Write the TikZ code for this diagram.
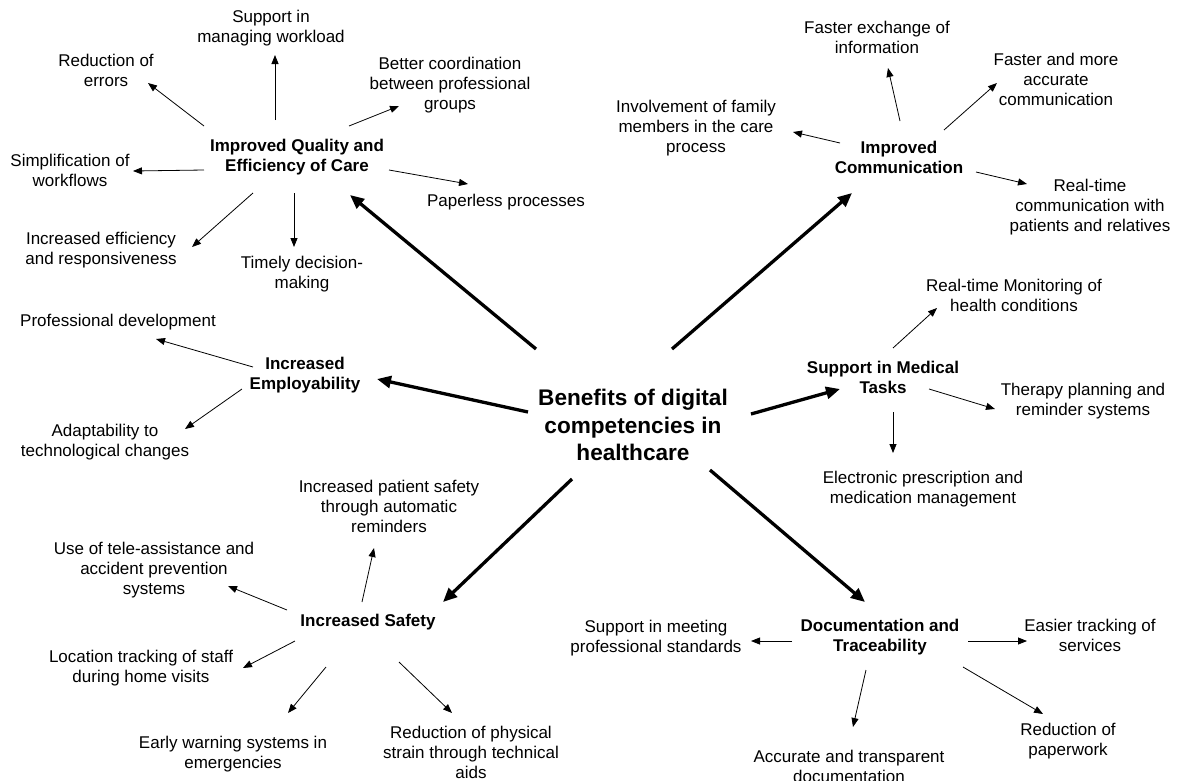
\documentclass[tikz,border=0pt]{standalone}
\usepackage{fontspec}
\setmainfont{Liberation Sans}
\usetikzlibrary{arrows.meta}

\begin{document}
\begin{tikzpicture}[x=1pt, y=-1pt,
    hub/.style={align=center, inner sep=0pt, font=\fontsize{22.6}{27.5}\selectfont\bfseries},
    branch/.style={align=center, inner sep=0pt, font=\fontsize{17}{20}\selectfont\bfseries},
    leaf/.style={align=center, inner sep=0pt, font=\fontsize{17}{20}\selectfont},
    trunk/.style={line width=3.3pt, -{Triangle[length=14pt, width=12pt]}},
    twig/.style={line width=0.8pt, -{Triangle[length=9pt, width=7pt]}}]
  \useasboundingbox[fill=white] (0,0) rectangle (1179,780);

  \node[hub] (main) at (633,425) {Benefits of digital\\competencies in\\healthcare};

  \node[branch] (qual) at (297,157) {Improved Quality and\\Efficiency of Care};
  \node[branch] (comm) at (899,157) {Improved\\Communication};
  \node[branch] (empl) at (305,375) {Increased\\Employability};
  \node[branch] (med) at (883,377) {Support in Medical\\Tasks};
  \node[branch] (safe) at (368,622) {Increased Safety};
  \node[branch] (doc) at (880,637) {Documentation and\\Traceability};

  \draw[trunk] ([shift={(-97,-76)}]main.center) -- ([shift={(53,38)}]qual.center);
  \draw[trunk] ([shift={(39,-76)}]main.center) -- ([shift={(-47,36)}]comm.center);
  \draw[trunk] ([shift={(-105,-13)}]main.center) -- ([shift={(72,4)}]empl.center);
  \draw[trunk] ([shift={(118,-11)}]main.center) -- ([shift={(-43,12)}]med.center);
  \draw[trunk] ([shift={(-61,54)}]main.center) -- ([shift={(75,-20)}]safe.center);
  \draw[trunk] ([shift={(77,45)}]main.center) -- ([shift={(-15,-35)}]doc.center);

  \node[leaf] (work) at (271,28) {Support in\\managing workload};
  \node[leaf] (err) at (106,70) {Reduction of\\errors};
  \node[leaf] (coord) at (450,85) {Better coordination\\between professional\\groups};
  \node[leaf] (simp) at (70,170) {Simplification of\\workflows};
  \node[leaf] (paper) at (506,202) {Paperless processes};
  \node[leaf] (effic) at (101,250) {Increased efficiency\\and responsiveness};
  \node[leaf] (timely) at (302,274) {Timely decision-\\making};
  \draw[twig] ([shift={(-22,-37)}]qual.center) -- ([shift={(4,27)}]work.center);
  \draw[twig] ([shift={(-93,-31)}]qual.center) -- ([shift={(42,13)}]err.center);
  \draw[twig] ([shift={(52,-31)}]qual.center) -- ([shift={(-51,21)}]coord.center);
  \draw[twig] ([shift={(-93,13)}]qual.center) -- ([shift={(63,1)}]simp.center);
  \draw[twig] ([shift={(92,13)}]qual.center) -- ([shift={(-38,-18)}]paper.center);
  \draw[twig] ([shift={(-44,36)}]qual.center) -- ([shift={(91,-3)}]effic.center);
  \draw[twig] ([shift={(-3,36)}]qual.center) -- ([shift={(-8,-27)}]timely.center);

  \node[leaf] (info) at (877,37) {Faster exchange of\\information};
  \node[leaf] (accu) at (1056,79) {Faster and more\\accurate\\communication};
  \node[leaf] (family) at (696,128) {Involvement of family\\members in the care\\process};
  \node[leaf] (realtime) at (1090,207) {Real-time\\communication with\\patients and relatives};
  \draw[twig] ([shift={(1,-36)}]comm.center) -- ([shift={(11,31)}]info.center);
  \draw[twig] ([shift={(45,-27)}]comm.center) -- ([shift={(-59,4)}]accu.center);
  \draw[twig] ([shift={(-59,-14)}]comm.center) -- ([shift={(97,4)}]family.center);
  \draw[twig] ([shift={(77,15)}]comm.center) -- ([shift={(-63,-23)}]realtime.center);

  \node[leaf] (prof) at (118,322) {Professional development};
  \node[leaf] (adapt) at (105,442) {Adaptability to\\technological changes};
  \draw[twig] ([shift={(-52,-8)}]empl.center) -- ([shift={(38,17)}]prof.center);
  \draw[twig] ([shift={(-63,14)}]empl.center) -- ([shift={(80,-13)}]adapt.center);

  \node[leaf] (monitor) at (1014,295) {Real-time Monitoring of\\health conditions};
  \node[leaf] (therapy) at (1083,401) {Therapy planning and\\reminder systems};
  \node[leaf] (presc) at (923,489) {Electronic prescription and\\medication management};
  \draw[twig] ([shift={(10,-29)}]med.center) -- ([shift={(-77,13)}]monitor.center);
  \draw[twig] ([shift={(46,12)}]med.center) -- ([shift={(-88,8)}]therapy.center);
  \draw[twig] ([shift={(10,35)}]med.center) -- ([shift={(-30,-36)}]presc.center);

  \node[leaf] (remind) at (389,506) {Increased patient safety\\through automatic\\reminders};
  \node[leaf] (tele) at (154,570) {Use of tele-assistance and\\accident prevention\\systems};
  \node[leaf] (locate) at (141,668) {Location tracking of staff\\during home visits};
  \node[leaf] (early) at (233,754) {Early warning systems in\\emergencies};
  \node[leaf] (strain) at (471,752) {Reduction of physical\\strain through technical\\aids};
  \draw[twig] ([shift={(-6,-20)}]safe.center) -- ([shift={(-15,42)}]remind.center);
  \draw[twig] ([shift={(-81,-12)}]safe.center) -- ([shift={(74,16)}]tele.center);
  \draw[twig] ([shift={(-73,19)}]safe.center) -- ([shift={(102,0)}]locate.center);
  \draw[twig] ([shift={(-42,45)}]safe.center) -- ([shift={(55,-41)}]early.center);
  \draw[twig] ([shift={(31,40)}]safe.center) -- ([shift={(-19,-39)}]strain.center);

  \node[leaf] (standard) at (656,638) {Support in meeting\\professional standards};
  \node[leaf] (easier) at (1090,635) {Easier tracking of\\services};
  \node[leaf] (accurate) at (849,766) {Accurate and transparent\\documentation};
  \node[leaf] (paperwork) at (1068,741) {Reduction of\\paperwork};
  \draw[twig] ([shift={(-88,4)}]doc.center) -- ([shift={(95,3)}]standard.center);
  \draw[twig] ([shift={(88,4)}]doc.center) -- ([shift={(-63,6)}]easier.center);
  \draw[twig] ([shift={(-14,33)}]doc.center) -- ([shift={(4,-39)}]accurate.center);
  \draw[twig] ([shift={(83,30)}]doc.center) -- ([shift={(-25,-27)}]paperwork.center);
\end{tikzpicture}
\end{document}
